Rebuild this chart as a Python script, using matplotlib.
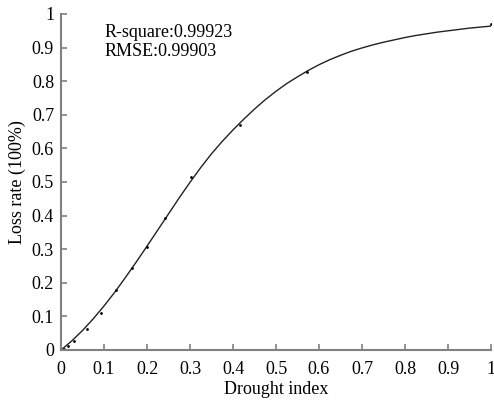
import matplotlib
matplotlib.use("Agg")
import matplotlib.pyplot as plt

# observed points
obs_x = [0.0, 0.006, 0.016, 0.030, 0.060, 0.092, 0.128, 0.165, 0.200, 0.241, 0.303, 0.416, 0.571, 1.0]
obs_y = [0.0, 0.003, 0.013, 0.027, 0.063, 0.110, 0.178, 0.245, 0.307, 0.392, 0.515, 0.670, 0.828, 0.970]

# fitted curve
fit_x = [0, 0.025, 0.05, 0.075, 0.1, 0.125, 0.15, 0.175, 0.2, 0.225, 0.25, 0.275, 0.3,
         0.325, 0.35, 0.375, 0.4, 0.425, 0.45, 0.475, 0.5, 0.525, 0.55, 0.575, 0.6,
         0.625, 0.65, 0.675, 0.7, 0.725, 0.75, 0.775, 0.8, 0.825, 0.85, 0.875, 0.9,
         0.925, 0.95, 0.975, 1.0]
fit_y = [0, 0.027, 0.058, 0.093, 0.131, 0.172, 0.216, 0.262, 0.309, 0.357, 0.405, 0.453, 0.499,
         0.543, 0.584, 0.621, 0.655, 0.687, 0.717, 0.745, 0.770, 0.793, 0.813, 0.832, 0.849,
         0.864, 0.877, 0.889, 0.899, 0.908, 0.916, 0.923, 0.930, 0.936, 0.941, 0.946, 0.950,
         0.954, 0.958, 0.961, 0.964]

ticks = [0, 0.1, 0.2, 0.3, 0.4, 0.5, 0.6, 0.7, 0.8, 0.9, 1.0]
tick_labels = ["0", "0.1", "0.2", "0.3", "0.4", "0.5", "0.6", "0.7", "0.8", "0.9", "1"]

plt.rcParams['font.family'] = ['Liberation Serif', 'DejaVu Serif']
fig = plt.figure(figsize=(4.94, 4.03), dpi=100)
ax = fig.add_axes([61/494, 53/403, 430/494, 336/403])

ax.plot(fit_x, fit_y, color='#222222', lw=1.0)
ax.plot(obs_x, obs_y, 'o', color='black', ms=2.0, mew=0)

ax.set_xlim(0, 1)
ax.set_ylim(0, 1)
ax.set_xticks(ticks)
ax.set_xticklabels(tick_labels)
ax.set_yticks(ticks)
ax.set_yticklabels(tick_labels)
for s in ['top', 'right']:
    ax.spines[s].set_visible(False)
for s in ['left', 'bottom']:
    ax.spines[s].set_color('#808080')
    ax.spines[s].set_linewidth(1.5)
ax.tick_params(direction='in', length=4, width=1.2, color='#808080', labelsize=13)
ax.tick_params(axis='x', pad=8)
ax.tick_params(axis='y', pad=5)
ax.set_xlabel('Drought index', fontsize=13, labelpad=2)
ax.set_ylabel('Loss rate (100%)', fontsize=13, labelpad=4)

ax.text(0.102, 0.97, 'R-square:0.99923\nRMSE:0.99903', fontsize=13, va='top', ha='left', linespacing=1.15)

fig.savefig('out.png', dpi=100)
